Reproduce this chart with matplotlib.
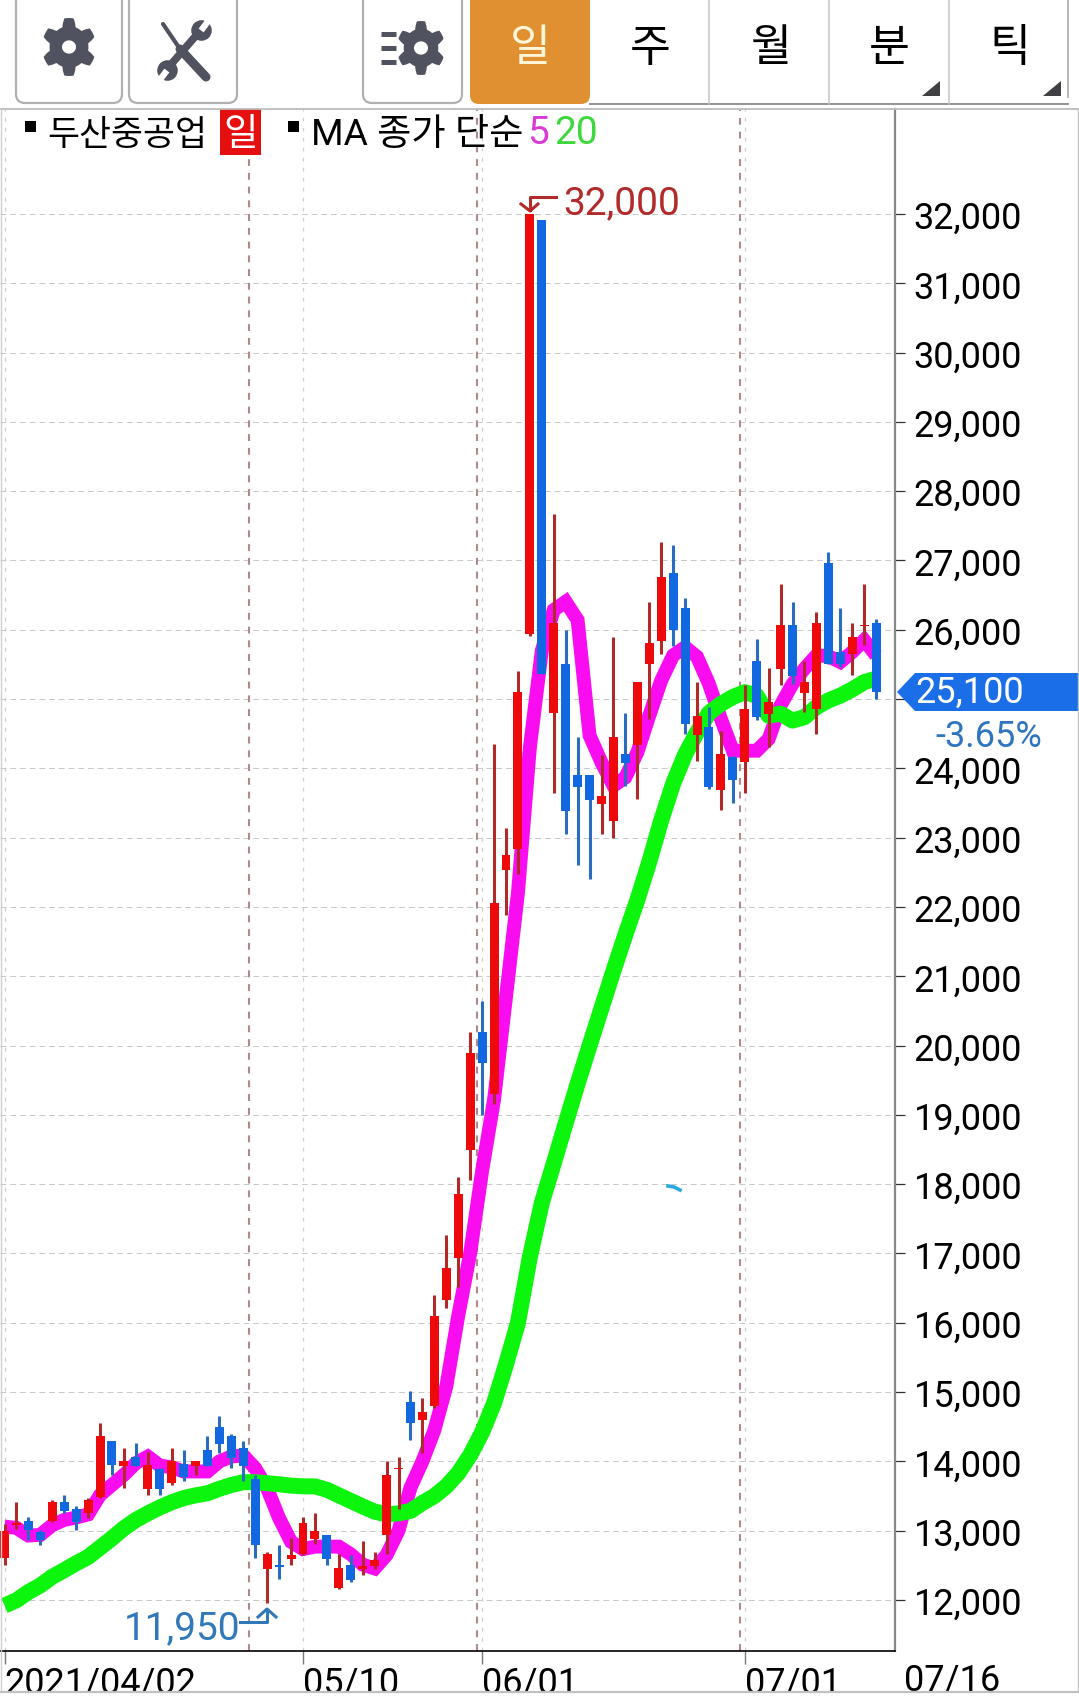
# 두산중공업 일봉 차트 (모바일 HTS 화면)
import numpy as np
import matplotlib
matplotlib.use('Agg')
import matplotlib.pyplot as plt
from matplotlib.patches import FancyBboxPatch, Polygon, PathPatch, Rectangle
from matplotlib.path import Path

plt.rcParams['font.family'] = ['Roboto', 'Noto Sans CJK KR', 'DejaVu Sans']

opens = [12600, 13080, 13145, 12975, 13140, 13410, 13310, 13250, 13490, 14300,
         13940, 14060, 13600, 13890, 13685, 13960, 13940, 14160, 14500, 14360,
         14200, 13750, 12445, 12500, 12585, 12670, 12880, 12945, 12175, 12500,
         12445, 12490, 12935, 13890, 14860, 14600, 14800, 16335, 16935, 18490,
         20200, 19300, 22530, 22840, 25945, 31910, 24800, 25510, 23900, 23900,
         23490, 23240, 24210, 24340, 25500, 25840, 26815, 26310, 24480, 24595,
         23685, 24160, 24095, 25550, 24785, 25440, 26065, 25090, 24850, 26960,
         25680, 25650, 26050, 26105]
closes = [13000, 13115, 13010, 12865, 13420, 13290, 13130, 13445, 14360, 13950,
          14000, 13940, 13950, 13600, 14000, 13770, 14000, 13940, 14255, 14050,
          13940, 12790, 12660, 12480, 12650, 13105, 13000, 12590, 12455, 12285,
          12490, 12575, 13805, 13910, 14555, 14715, 16105, 16790, 17860, 19900,
          19750, 22060, 22745, 25100, 32000, 25360, 26105, 23385, 23735, 23545,
          23595, 24450, 24085, 25250, 25815, 26760, 25995, 24640, 24755, 23725,
          24210, 23830, 24860, 24740, 24955, 26065, 25340, 25245, 26105, 25510,
          25500, 25900, 26065, 25100]
highs = [13100, 13410, 13200, 13010, 13450, 13510, 13350, 13470, 14555, 14300,
         14200, 14265, 14135, 13900, 14200, 14160, 14000, 14360, 14650, 14400,
         14300, 13800, 12695, 12800, 12890, 13200, 13250, 12945, 12670, 12650,
         12850, 12695, 14000, 14060, 15010, 14915, 16400, 17260, 18105, 20200,
         20650, 24350, 23145, 25405, 32000, 31910, 27670, 26000, 24450, 23900,
         24190, 25900, 24800, 25250, 26405, 27265, 27220, 26460, 25250, 24885,
         24545, 24180, 25200, 25860, 25455, 26655, 26405, 25550, 26260, 27120,
         26310, 26105, 26655, 26150]
lows = [12500, 13030, 12865, 12800, 13130, 13250, 13010, 13180, 13470, 13800,
        13620, 13930, 13515, 13515, 13660, 13710, 13800, 13930, 14120, 13910,
        13710, 12610, 11950, 12300, 12510, 12650, 12815, 12500, 12155, 12260,
        12360, 12450, 12670, 13310, 14310, 14120, 14770, 16210, 16520, 18060,
        19000, 19160, 21880, 22470, 25910, 25360, 23650, 23060, 22600, 22405,
        23060, 22990, 23750, 23565, 24715, 25655, 25760, 24500, 24110, 23700,
        23400, 23500, 23640, 24705, 24305, 25205, 25220, 24810, 24500, 25510,
        25465, 25350, 25780, 25000]

ma5 = [13060, 13040, 12930, 12940, 13080, 13155, 13190, 13235, 13515, 13660,
       13805, 13975, 14070, 13940, 13915, 13855, 13855, 13855, 14000, 14070,
       14085, 13900, 13610, 13180, 12840, 12735, 12770, 12770, 12770, 12660,
       12510, 12455, 12650, 13000, 13620, 14000, 14450, 15080, 16100, 17000,
       18190, 19220, 20700, 22200, 24300, 25700, 26285, 26405, 26140, 24475,
       24085, 23750, 23870, 24230, 24760, 25270, 25630, 25750, 25610, 25220,
       24715, 24255, 24255, 24255, 24425, 24910, 25220, 25440, 25630, 25620,
       25535, 25680, 25850, 25630]
ma20 = [11920, 11995, 12115, 12210, 12335, 12430, 12530, 12620, 12755, 12890,
        13035, 13155, 13250, 13335, 13410, 13470, 13510, 13540, 13605, 13660,
        13700, 13700, 13685, 13670, 13650, 13640, 13640, 13590, 13510, 13430,
        13350, 13275, 13235, 13250, 13285, 13400, 13500, 13640, 13830, 14090,
        14420, 14840, 15400, 16000, 16950, 17730, 18300, 18880, 19450, 20000,
        20540, 21080, 21600, 22100, 22650, 23250, 23780, 24200, 24520, 24800,
        24930, 25030, 25100, 25050, 24760, 24790, 24690, 24740, 24885, 24980,
        25050, 25140, 25245, 25295]

price_ticks = list(range(12000, 33000, 1000))
# 25,000 라벨은 현재가 태그에 가려져 표시되지 않음
price_labels = ['' if v == 25000 else f'{v:,}' for v in price_ticks]
date_ticks = [0, 25, 40, 62]
date_labels = ['2021/04/02', '05/10', '06/01', '07/01']
month_lines = [20.5, 39.6, 61.6]
tabs = ['일', '주', '월', '분', '틱']

W, H = 1079, 1699
RED, BLUE = '#ee0a0a', '#1268e0'
RED_W, BLUE_W = '#b02a2a', '#2a6cc0'
ICON = '#50535f'

fig = plt.figure(figsize=(W/100, H/100), dpi=100, facecolor='white')

# 차트 영역: 픽셀 위치 (0~895, 110~1652)
ax = fig.add_axes([0, 1-1652/H, 895/W, (1652-110)/H])
ax.set_xlim(-0.377, 74.58)
ax.set_ylim(11264, 33515)

for s in ['top', 'left']:
    ax.spines[s].set_visible(False)
ax.spines['right'].set_color('#888888')
ax.spines['right'].set_linewidth(1.6)
ax.spines['bottom'].set_color('black')
ax.spines['bottom'].set_linewidth(1.2)

ax.yaxis.tick_right()
ax.set_yticks(price_ticks)
ax.set_yticklabels(price_labels, fontsize=26, color='black')
ax.tick_params(axis='y', length=7.5, width=0.9, pad=6, color='#333333')
ax.set_xticks(date_ticks)
ax.set_xticklabels(date_labels, fontsize=26, ha='left', color='black')
ax.tick_params(axis='x', length=9, width=1.0, pad=1, color='#777777')

for v in price_ticks:
    ax.axhline(v, color='#c8c8c8', lw=0.7, dashes=(6, 4), zorder=1)
for d in date_ticks:
    ax.axvline(d, color='#cfcfcf', lw=0.9, dashes=(3, 5), zorder=1)
for d in month_lines:
    ax.axvline(d, color='#b08a8a', lw=1.5, dashes=(3.3, 3.3), zorder=1)

x = np.arange(len(closes))
ax.plot(x, ma5, color='#fa0cf0', lw=10, solid_joinstyle='miter', solid_capstyle='butt', zorder=2)
ax.plot(x, ma20, color='#0cf50c', lw=11.5, solid_joinstyle='round', solid_capstyle='butt', zorder=3)

up = [c >= o for o, c in zip(opens, closes)]
wick_c = [RED_W if u else BLUE_W for u in up]
body_c = [RED if u else BLUE for u in up]
ax.vlines(x, lows, highs, colors=wick_c, lw=2.2, zorder=4)
ax.bar(x, np.abs(np.array(closes)-np.array(opens)), bottom=np.minimum(opens, closes),
       width=0.75, color=body_c, linewidth=0, zorder=5)

# 화면 요소 (버튼, 범례, 라벨)
ui = fig.add_axes([0, 0, 1, 1], facecolor='none')
ui.set_xlim(0, W)
ui.set_ylim(H, 0)
ui.axis('off')


def gear(cx, cy, rx, ry, hole):
    ang = np.linspace(0, 2*np.pi, 73)[:-1]
    r = 0.86 + 0.14*np.clip(2.0*np.cos(6*ang), -1, 1)
    outer = np.c_[cx + rx*r*np.sin(ang), cy + ry*r*np.cos(ang)]
    t = np.linspace(0, 2*np.pi, 40)[:-1]
    inner = np.c_[cx + hole*np.cos(t), cy + hole*0.95*np.sin(t)]
    if np.sum(np.cross(outer, np.roll(outer, -1, axis=0))) * np.sum(np.cross(inner, np.roll(inner, -1, axis=0))) > 0:
        inner = inner[::-1]
    verts = np.r_[outer, outer[:1], inner, inner[:1]]
    codes = [Path.MOVETO] + [Path.LINETO]*(len(outer)-1) + [Path.CLOSEPOLY] + \
            [Path.MOVETO] + [Path.LINETO]*(len(inner)-1) + [Path.CLOSEPOLY]
    ui.add_patch(PathPatch(Path(verts, codes), fc=ICON, ec='none'))


for x0, x1 in [(16, 122), (129, 237), (363, 462)]:
    ui.add_patch(FancyBboxPatch((x0, -30), x1-x0, 134, boxstyle='round,pad=0,rounding_size=9',
                                fc='white', ec='#b0b0b0', lw=1.6))
gear(69, 48, 27, 29, 7)
gear(421, 49, 24, 27, 7)
for yy in [35, 49, 63]:
    ui.plot([381, 396], [yy, yy], color=ICON, lw=3.6, solid_capstyle='butt')

# 공구 아이콘
ui.plot([163, 180], [25, 50], color=ICON, lw=3, solid_capstyle='round')
ui.plot([180, 206], [50, 78], color=ICON, lw=6.5, solid_capstyle='round')
ui.plot([167, 200], [70, 32], color=ICON, lw=5.5, solid_capstyle='butt')
ui.scatter([201, 167], [31, 71], s=190, color=ICON, zorder=3)
ui.plot([203, 209], [29, 21], color='white', lw=4.5, zorder=4)
ui.plot([165, 159], [74, 82], color='white', lw=4.5, zorder=4)

# 탭
ui.add_patch(FancyBboxPatch((470, -30), 120, 135, boxstyle='round,pad=0,rounding_size=9',
                            fc='#e09030', ec='none'))
ui.plot([590, 1068], [105, 105], color='#8a8a8a', lw=1.3)
for xx in [709, 829, 949]:
    ui.plot([xx, xx], [0, 105], color='#c4c4c4', lw=1.1)
ui.plot([1068, 1068], [0, 98], color='#b0b0b0', lw=1.3)
for name, cx, col in zip(tabs, [530, 650, 771, 889, 1010], ['#fff6d8', 'black', 'black', 'black', 'black']):
    ui.text(cx, 48, name, fontsize=32, color=col, ha='center', va='center', family='Noto Sans CJK KR')
for xr in [940, 1061]:
    ui.add_patch(Polygon([(xr, 82), (xr, 97), (xr-18, 97)], fc='#3f3f44', ec='none'))

# 테두리
ui.plot([0, W], [110, 110], color='#bcbcbc', lw=1.3)
ui.add_patch(Rectangle((0, 1693), W, 6, fc='white', ec='none', zorder=5))
ui.plot([0, W], [1693, 1693], color='#c0c0c0', lw=1.6, zorder=6)
ui.plot([1, 1], [110, 1693], color='#d0d0d0', lw=1.0)
ui.plot([1078, 1078], [110, 1693], color='#c0c0c0', lw=1.0)

# 범례
ui.add_patch(Rectangle((25, 122), 11, 11, fc='black', ec='none'))
ui.text(47, 135, '두산중공업', fontsize=25, color='black', va='center', family='Noto Sans CJK KR')
ui.add_patch(Rectangle((220, 110), 41, 46, fc='#e60f0f', ec='none'))
ui.text(240.5, 134, '일', fontsize=27, color='white', ha='center', va='center', family='Noto Sans CJK KR')
ui.add_patch(Rectangle((288, 122), 11, 11, fc='black', ec='none'))
ui.text(311, 135, 'MA 종가 단순', fontsize=26.8, color='black', va='center')
ui.text(527, 134, '5', fontsize=28, color='#d83ad8', va='center')
ui.text(554, 134, '20', fontsize=28, color='#3ed83e', va='center')

# 최고가 / 최저가
ui.text(563, 204, '32,000', fontsize=28, color='#b22a2a', va='center')
ui.plot([556, 530, 530], [198, 198, 211], color='#b22a2a', lw=2.2)
ui.plot([521, 530, 538], [205, 212, 205], color='#b22a2a', lw=2.2)
ui.text(124, 1629, '11,950', fontsize=28, color='#3178b8', va='center')
ui.plot([240, 267, 267], [1623, 1623, 1611], color='#3178b8', lw=2.2)
ui.plot([258, 267, 276], [1618, 1610, 1618], color='#3178b8', lw=2.2)

# 현재가
ui.add_patch(Polygon([(897, 693), (915, 674), (1079, 674), (1079, 712), (915, 712)], fc='#1a6fe8', ec='none'))
ui.text(915, 693, '25,100', fontsize=26, color='white', va='center')
ui.text(935, 737, '-3.65%', fontsize=26, color='#2f74c0', va='center')

ui.text(904, 1681, '07/16', fontsize=26, color='black', va='center')
ui.plot([668, 674, 680], [1187, 1188, 1191], color='#29a9e0', lw=2.6)

fig.savefig('out.png', dpi=100, facecolor='white')
